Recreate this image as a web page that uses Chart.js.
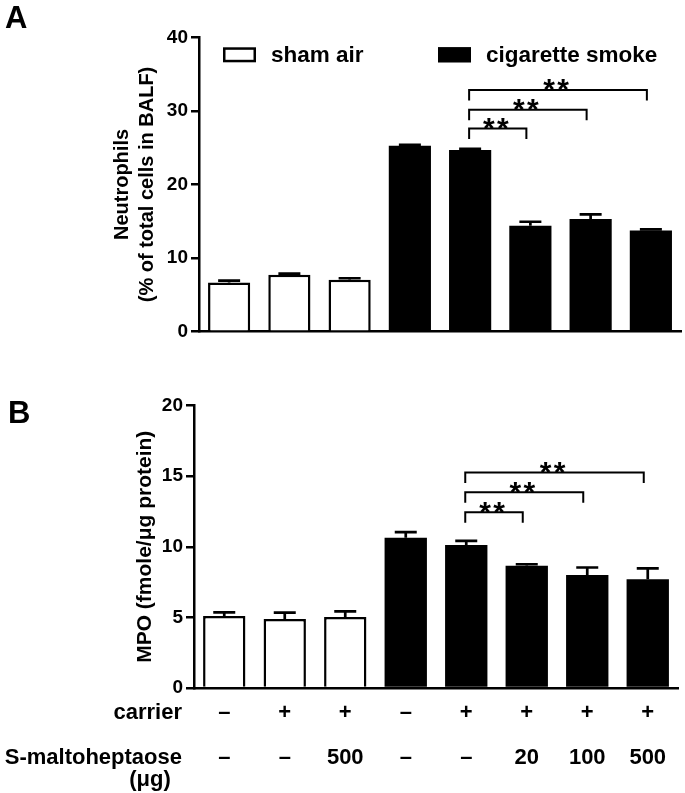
<!DOCTYPE html>
<html>
<head>
<meta charset="utf-8">
<script src="https://cdn.jsdelivr.net/npm/chart.js@4.4.0/dist/chart.umd.min.js"></script>
<style>
  html, body { margin: 0; padding: 0; background: #fff; }
  body { width: 685px; height: 793px; position: relative; overflow: hidden; }
  canvas { position: absolute; left: 0; }
  #chartA { top: 0; }
  #chartB { top: 390px; }
</style>
</head>
<body>
<canvas id="chartA" width="685" height="350"></canvas>
<canvas id="chartB" width="685" height="403"></canvas>
<script>
/* DATA */
var carrierRow = ['–', '+', '+', '–', '+', '+', '+', '+'];
var maltoRow = ['–', '–', '500', '–', '–', '20', '100', '500'];
var rowTitles = ['carrier', 'S-maltoheptaose', '(μg)'];
var seriesNames = ['sham air', 'cigarette smoke'];

var neutroSham  = [6.7, 7.74, 7.06, null, null, null, null, null];
var neutroSmoke = [null, null, null, 25.25, 24.7, 14.39, 15.3, 13.76];
var neutroErr   = [0.25, 0.15, 0.2, 0.15, 0.15, 0.55, 0.65, 0.15];

var mpoSham  = [5.1, 4.88, 5.03, null, null, null, null, null];
var mpoSmoke = [null, null, null, 10.64, 10.12, 8.66, 8.0, 7.7];
var mpoErr   = [0.25, 0.46, 0.39, 0.39, 0.3, 0.1, 0.53, 0.77];

var yTicksA = [0, 10, 20, 30, 40];
var yTicksB = [0, 5, 10, 15, 20];

// significance brackets: from group, to group, height (data units)
var sigFrom = [4, 4, 4];
var sigTo = [5, 6, 7];
var sigLevelA = [27.6, 30.15, 32.85];
var sigLevelB = [12.45, 13.85, 15.25];
var sigMark = '**';

var labels = carrierRow.map(function(c, i) { return [c, maltoRow[i]]; });
/* DATA */

var FONT = "'Liberation Sans', Arial, Helvetica, sans-serif";
Chart.defaults.font.family = FONT;
Chart.defaults.font.weight = 'bold';
Chart.defaults.color = '#000';

var errorBars = {
    id: 'errbars',
    afterDatasetsDraw: function(chart, args, opts) {
        var ctx = chart.ctx, y = chart.scales.y;
        ctx.save();
        ctx.strokeStyle = '#000';
        ctx.lineWidth = 2.7;
        chart.data.datasets.forEach(function(ds, i) {
            var meta = chart.getDatasetMeta(i);
            meta.data.forEach(function(bar, j) {
                if (ds.data[j] == null) return;
                var top = y.getPixelForValue(ds.data[j] + opts.errors[j]);
                ctx.beginPath();
                ctx.moveTo(bar.x, bar.y);
                ctx.lineTo(bar.x, top);
                ctx.moveTo(bar.x - 11, top);
                ctx.lineTo(bar.x + 11, top);
                ctx.stroke();
            });
        });
        ctx.restore();
    }
};

var brackets = {
    id: 'brackets',
    afterDraw: function(chart, args, opts) {
        var ctx = chart.ctx, x = chart.scales.x, y = chart.scales.y;
        ctx.save();
        ctx.strokeStyle = '#000';
        ctx.fillStyle = '#000';
        ctx.lineWidth = 2;
        ctx.font = 'bold 30px ' + FONT;
        ctx.textAlign = 'center';
        ctx.textBaseline = 'alphabetic';
        for (var k = 0; k < sigFrom.length; k++) {
            var x1 = x.getPixelForValue(sigFrom[k]) - 1;
            var x2 = x.getPixelForValue(sigTo[k]) - 4;
            var yy = y.getPixelForValue(opts.levels[k]);
            ctx.beginPath();
            ctx.moveTo(x1, yy + 10.5);
            ctx.lineTo(x1, yy);
            ctx.lineTo(x2, yy);
            ctx.lineTo(x2, yy + 10.5);
            ctx.stroke();
            // draw the stars one by one so they keep a small gap
            var mid = (x1 + x2) / 2 - 2;
            var n = sigMark.length;
            for (var s = 0; s < n; s++) {
                ctx.fillText(sigMark[s], mid + (s - (n - 1) / 2) * 14, yy + 9.5);
            }
        }
        ctx.restore();
    }
};

var panelTag = {
    id: 'panelTag',
    afterDraw: function(chart, args, opts) {
        var ctx = chart.ctx;
        ctx.save();
        ctx.fillStyle = '#000';
        ctx.font = 'bold 31px ' + FONT;
        ctx.textBaseline = 'alphabetic';
        ctx.fillText(opts.text, opts.x, opts.y);
        ctx.restore();
    }
};

var boxLegend = {
    id: 'boxLegend',
    afterDraw: function(chart, args, opts) {
        if (!opts.show) return;
        var ctx = chart.ctx, ca = chart.chartArea;
        var offs = [24, 239];
        ctx.save();
        chart.data.datasets.forEach(function(ds, i) {
            var bx = ca.left + offs[i], by = ca.top + 10;
            ctx.fillStyle = ds.backgroundColor;
            ctx.fillRect(bx, by, 33, 15);
            ctx.strokeStyle = '#000';
            ctx.lineWidth = 2.5;
            ctx.strokeRect(bx + 1.25, by + 1.25, 30.5, 12.5);
            ctx.fillStyle = '#000';
            ctx.font = 'bold 22.5px ' + FONT;
            ctx.textBaseline = 'alphabetic';
            ctx.fillText(ds.label, bx + 48, by + 14.5);
        });
        ctx.restore();
    }
};

var rowHeads = {
    id: 'rowHeads',
    afterDraw: function(chart, args, opts) {
        if (!opts.show) return;
        var ctx = chart.ctx, xs = chart.scales.x;
        var lh = 45;
        var y1 = xs.top + 2 + lh / 2;
        ctx.save();
        ctx.fillStyle = '#000';
        ctx.font = 'bold 22px ' + FONT;
        ctx.textBaseline = 'middle';
        ctx.textAlign = 'right';
        ctx.fillText(rowTitles[0], 182, y1);
        ctx.fillText(rowTitles[1], 182, y1 + lh);
        ctx.textAlign = 'center';
        ctx.fillText(rowTitles[2], 150, y1 + lh + 22);
        ctx.restore();
    }
};

function makeChart(id, sham, smoke, errs, yTicks, yTitle, titlePad, levels, opt) {
    var ctx = document.getElementById(id).getContext('2d');
    return new Chart(ctx, {
        type: 'bar',
        data: {
            labels: labels,
            datasets: [
                { label: seriesNames[0], data: sham, backgroundColor: '#ffffff', borderColor: '#000', borderWidth: 2.5 },
                { label: seriesNames[1], data: smoke, backgroundColor: '#000000', borderColor: '#000', borderWidth: 0 }
            ]
        },
        options: {
            responsive: false,
            animation: false,
            devicePixelRatio: 1,
            layout: { padding: opt.padding },
            datasets: { bar: { skipNull: true, barPercentage: 0.7, categoryPercentage: 1 } },
            plugins: {
                legend: { display: false },
                tooltip: { enabled: false },
                errbars: { errors: errs },
                brackets: { levels: levels },
                panelTag: opt.tag,
                boxLegend: { show: opt.legend },
                rowHeads: { show: opt.rows }
            },
            scales: {
                x: {
                    grid: { display: false, drawTicks: false },
                    border: { display: true, color: '#000', width: 2.5 },
                    ticks: { display: opt.rows, autoSkip: false, maxRotation: 0, padding: 2,
                             font: { size: 22, weight: 'bold', lineHeight: 45 / 22 } },
                    afterFit: function(s) { s.height = opt.xHeight; }
                },
                y: {
                    min: yTicks[0],
                    max: yTicks[yTicks.length - 1],
                    ticks: { stepSize: yTicks[1] - yTicks[0], padding: 3, font: { size: 19, weight: 'bold' } },
                    grid: { display: true, drawOnChartArea: false, drawTicks: true, tickLength: 8, color: '#000', lineWidth: 2.5 },
                    border: { display: true, color: '#000', width: 2.5 },
                    title: { display: true, text: yTitle, font: opt.titleFont, padding: { top: titlePad, bottom: 0 } },
                    afterFit: function(s) { s.width = opt.yWidth; }
                }
            }
        },
        plugins: [errorBars, brackets, panelTag, boxLegend, rowHeads]
    });
}

window.onload = function() {
    window.chartA = makeChart('chartA', neutroSham, neutroSmoke, neutroErr, yTicksA,
        ['Neutrophils', '(% of total cells in BALF)'], 109.5, sigLevelA, {
            padding: { top: 37.3, right: 4, left: 0, bottom: 0 },
            xHeight: 18.3, yWidth: 199, legend: true, rows: false,
            titleFont: { size: 20, weight: 'bold', lineHeight: 1.25 },
            tag: { text: 'A', x: 5, y: 28 }
        });
    window.chartB = makeChart('chartB', mpoSham, mpoSmoke, mpoErr, yTicksB,
        'MPO (fmole/μg protein)', 132.4, sigLevelB, {
            padding: { top: 15.5, right: 7, left: 0, bottom: 0 },
            xHeight: 105, yWidth: 194, legend: false, rows: true,
            titleFont: { size: 21, weight: 'bold', lineHeight: 1.2 },
            tag: { text: 'B', x: 8, y: 33 }
        });
};
</script>
</body>
</html>
